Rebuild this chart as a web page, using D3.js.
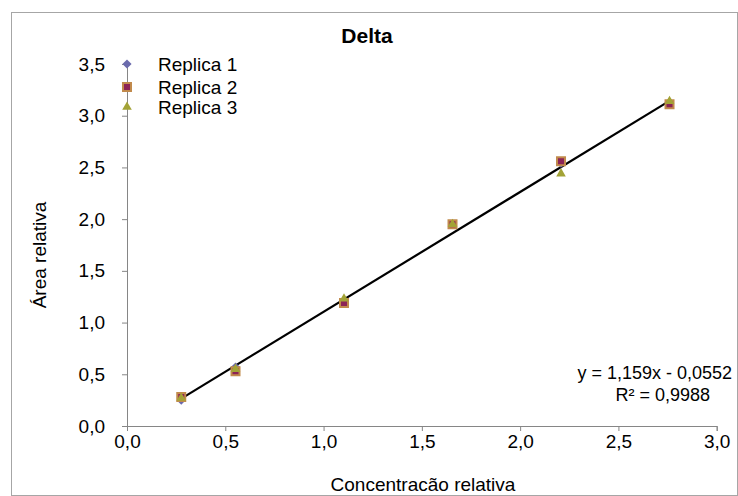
<!DOCTYPE html>
<html>
<head>
<meta charset="utf-8">
<script src="https://cdn.jsdelivr.net/npm/d3@7"></script>
<style>
  body { margin: 0; background: #fff; }
  text { font-family: "Liberation Sans", Arial, sans-serif; fill: #000; }
</style>
</head>
<body>
<svg id="chart" width="738" height="496"></svg>
<script>
// dados
const concentracao = [0.276, 0.552, 1.104, 1.656, 2.208, 2.76];
const replica1 = [0.25, 0.57, 1.21, 1.95, 2.54, 3.11];
const replica2 = [0.28, 0.53, 1.19, 1.95, 2.56, 3.11];
const replica3 = [0.27, 0.55, 1.23, 1.95, 2.44, 3.14];
const seriesNames = ["Replica 1", "Replica 2", "Replica 3"];
const xTicks = [0, 0.5, 1, 1.5, 2, 2.5, 3];
const yTicks = [0, 0.5, 1, 1.5, 2, 2.5, 3, 3.5];
const slope = 1.159, intercept = -0.0552;

const svg = d3.select("#chart");
const fmt = d => d3.format(".1f")(d).replace(".", ",");

svg.append("rect")
    .attr("x", 11.5).attr("y", 12.5)
    .attr("width", 726).attr("height", 483)
    .attr("fill", "none").attr("stroke", "#a6a6a6");

const x = d3.scaleLinear().domain([0, 3]).range([127, 716.7]);
const y = d3.scaleLinear().domain([0, 3.5]).range([426, 64]);

const xAxis = svg.append("g")
    .attr("transform", "translate(0,426)")
    .call(d3.axisBottom(x).tickValues(xTicks).tickFormat(fmt).tickSize(5).tickPadding(4));
const yAxis = svg.append("g")
    .attr("transform", "translate(127,0)")
    .call(d3.axisLeft(y).tickValues(yTicks).tickFormat(fmt).tickSize(5).tickPadding(17));

[xAxis, yAxis].forEach(a => {
    a.select(".domain").attr("stroke", "#868686");
    a.selectAll(".tick line").attr("stroke", "#868686");
    a.selectAll(".tick text").style("font-size", "19px");
});

// linha de tendência
const xr = d3.extent(concentracao);
svg.append("line")
    .attr("x1", x(xr[0])).attr("y1", y(slope * xr[0] + intercept))
    .attr("x2", x(xr[1])).attr("y2", y(slope * xr[1] + intercept))
    .attr("stroke", "#000").attr("stroke-width", 2.2);

const markers = [
    { data: replica1, sym: d3.symbolSquare, size: 42, rot: 45, fill: "#6b6bad", stroke: "none" },
    { data: replica2, sym: d3.symbolSquare, size: 64, rot: 0, fill: "#8c2356", stroke: "#c18a4c" },
    { data: replica3, sym: d3.symbolTriangle, size: 40, rot: 0, fill: "#a3a336", stroke: "none" }
];

markers.forEach(m => {
    svg.append("g").selectAll("path")
        .data(m.data)
        .enter()
        .append("path")
        .attr("transform", (d, i) => `translate(${x(concentracao[i])},${y(d)}) rotate(${m.rot})`)
        .attr("d", d3.symbol().type(m.sym).size(m.size))
        .attr("fill", m.fill)
        .attr("stroke", m.stroke)
        .attr("stroke-width", 2);
});

// legenda
const legY = [64, 87, 107];
seriesNames.forEach((name, i) => {
    const m = markers[i];
    svg.append("path")
        .attr("transform", `translate(127,${legY[i]}) rotate(${m.rot})`)
        .attr("d", d3.symbol().type(m.sym).size(m.size))
        .attr("fill", m.fill).attr("stroke", m.stroke).attr("stroke-width", 2);
    svg.append("text")
        .attr("x", 158).attr("y", legY[i] + 7)
        .style("font-size", "19px")
        .text(name);
});

svg.append("text")
    .attr("x", 367).attr("y", 43)
    .attr("text-anchor", "middle")
    .style("font-size", "21px").style("font-weight", "bold")
    .text("Delta");

svg.append("text")
    .attr("x", 423).attr("y", 491)
    .attr("text-anchor", "middle")
    .style("font-size", "19px")
    .text("Concentracão relativa");

svg.append("text")
    .attr("transform", "translate(46,255) rotate(-90)")
    .attr("text-anchor", "middle")
    .style("font-size", "19px")
    .text("Área relativa");

svg.append("text")
    .attr("x", 732).attr("y", 379)
    .attr("text-anchor", "end")
    .style("font-size", "18px")
    .text("y = 1,159x - 0,0552");
svg.append("text")
    .attr("x", 710).attr("y", 401)
    .attr("text-anchor", "end")
    .style("font-size", "18px")
    .text("R² = 0,9988");
</script>
</body>
</html>
